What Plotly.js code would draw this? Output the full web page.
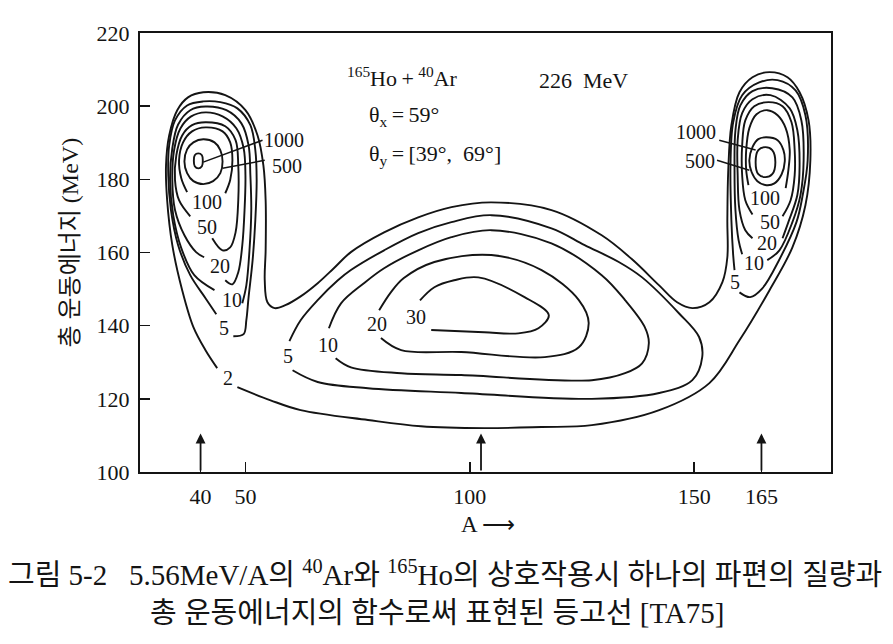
<!DOCTYPE html>
<html>
<head>
<meta charset="utf-8">
<script src="https://cdn.plot.ly/plotly-3.0.1.min.js"></script>
<style>html,body{margin:0;padding:0;background:#fff;}#chart{width:893px;height:644px;}</style>
</head>
<body>
<div id="chart"></div>
<script>
// ---- axis values ----
const xTickVals = [40, 50, 100, 150, 165];
const yTickVals = [100, 120, 140, 160, 180, 200, 220];
const arrowA = [40, 102.5, 165];
const arrowTipE = 110.5;

// ---- contour lines (A = mass number, E = total kinetic energy, MeV) ----
// level 2 : outer contour enclosing both peaks and the central region
const c2A = [48.2,55.6,62.3,77.3,89.1,103.2,116.0,127.2,142.2,153.4,160.1,166.8,171.9,174.8,175.9,175.5,173.5,170.8,166.8,163.0,160.1,158.3,157.6,157.4,157.4,156.3,153.4,149.6,146.2,142.2,136.1,129.4,118.2,104.8,95.9,88.5,80.9,73.5,69.7,66.1,62.3,58.9,56.5,54.9,54.3,54.5,54.5,54.0,52.7,50.0,45.5,40.6,37.2,34.8,33.0,32.3,32.55,33.7,35.9,38.4,41.1,43.7];
const c2E = [123.2,119.6,116.9,114.2,112.5,112.0,112.3,112.8,116.9,124.3,136.0,149.7,161.4,172.9,185.2,196.1,203.8,207.9,209.3,207.9,203.8,194.8,182.5,168.8,158.7,151.9,146.4,144.8,146.4,151.0,158.2,164.7,171.6,173.7,172.4,169.6,165.5,160.1,155.7,151.6,148.0,145.6,144.8,146.4,152.4,160.6,174.3,183.8,192.0,198.9,203.0,203.8,202.4,198.9,192.0,183.8,174.3,162.0,149.7,139.6,133.3,128.4];

// left peak (A ~ 40)
const L5A = [47.3,49.6,50.2,50.7,51.6,52.2,52.5,52.2,51.1,48.2,44.4,40.6,37.0,34.3,33.0,32.8,33.4,35.0,37.7,41.1,43.5];
const L5E = [137.1,137.7,141.5,147.8,157.9,168.8,179.8,188.0,194.8,199.4,201.1,201.3,200.2,196.1,189.3,181.1,171.6,162.0,153.8,147.5,143.1];
const L10A = [49.3,50.2,50.9,51.3,51.1,50.7,49.1,45.75,41.1,37.7,35.0,33.7,33.2,33.9,35.7,38.6,43.1];
const L10E = [146.1,151.0,160.6,171.6,181.1,189.3,195.3,198.9,199.9,198.9,195.0,188.5,179.8,170.2,161.2,153.8,149.7];
const L20A = [45.5,47.1,48.4,49.3,49.8,50.0,49.6,48.0,44.9,41.1,37.9,35.5,34.1,33.7,34.3,36.4,39.0,40.8];
const L20E = [152.4,151.3,154.6,162.0,171.6,181.1,188.5,193.9,197.2,198.3,197.2,193.9,188.0,179.8,171.6,164.7,160.1,158.7];
const L50A = [42.6,44.9,46.6,47.8,48.4,48.4,47.8,45.5,41.1,38.1,35.9,34.6,34.3,35.2,37.7];
const L50E = [163.9,160.6,161.4,165.5,174.3,183.8,190.7,194.5,195.6,194.8,192.0,186.6,179.8,174.3,169.9];
const L100A = [45.5,46.6,47.1,46.6,44.9,41.1,38.1,36.1,35.2,35.7,37.0];
const L100E = [176.2,179.8,185.2,190.1,193.1,194.2,193.1,190.1,185.2,180.3,176.5];
const L500A = [40.6,43.1,44.4,44.9,44.4,42.8,40.6,38.4,37.0,36.4,37.0,38.4,40.6];
const L500E = [190.96,190.1,188.0,184.9,181.7,179.5,178.7,179.5,181.7,184.9,188.2,190.1,190.96];
const L1000A = [39.5,40.3,40.5,40.3,39.5,38.7,38.5,38.7,39.5];
const L1000E = [187.1,186.6,185.1,183.6,183.0,183.6,185.1,186.6,187.1];

// right peak (A ~ 165)
const R5A = [160.1,162.5,165.2,169.0,172.8,174.2,175.3,174.8,172.6,168.6,164.5,160.7,158.7,158.1,158.3,158.7,159.0];
const R5E = [149.1,147.8,150.2,158.1,168.3,175.7,185.2,197.5,204.3,207.1,206.5,203.0,195.6,183.8,168.8,159.3,155.2];
const R10A = [166.3,169.0,171.9,173.7,174.4,173.9,171.9,167.4,163.0,160.3,159.2,159.0,159.2,159.9,160.7];
const R10E = [157.9,160.6,168.3,175.7,185.2,196.1,202.4,204.9,204.1,200.2,193.4,182.5,171.6,163.4,159.5];
const R20A = [169.7,171.0,173.0,173.5,173.0,171.3,167.0,163.0,160.7,159.7,159.7,160.1,161.4,163.0];
const R20E = [163.9,168.3,175.7,183.8,193.4,199.4,203.0,201.9,198.1,190.7,181.1,171.6,166.1,163.9];
const R50A = [169.7,171.5,172.4,172.4,171.7,169.7,166.6,163.4,161.4,160.7,160.7,161.4,163.0];
const R50E = [169.9,174.3,181.1,188.0,195.6,200.0,201.1,200.0,196.1,189.3,181.1,174.3,170.4];
const R100A = [170.4,171.0,171.3,170.4,168.6,166.3,163.9,162.3,161.6,161.6,162.1];
const R100E = [177.6,182.5,188.0,194.0,197.5,198.9,197.8,194.0,188.0,182.5,178.4];
const R500A = [166.1,168.6,169.9,170.2,169.5,167.9,166.1,164.1,162.8,162.3,163.0,164.3,166.1];
const R500E = [191.5,190.7,188.0,184.9,181.4,178.9,178.4,179.5,182.0,185.2,188.8,191.0,191.5];
const R1000A = [165.9,167.4,168.1,167.4,165.9,164.3,163.7,164.3,165.9];
const R1000E = [188.8,188.0,184.7,181.4,180.6,181.4,184.7,188.0,188.8];

// central region
const M5A = [60.5,66.1,77.3,98.1,127.2,142.2,149.6,151.8,151.1,146.6,138.4,133.2,125.6,118.2,104.8,95.9,88.5,80.9,73.5,70.6,66.1,62.3,59.8];
const M5E = [127.8,124.6,122.9,121.6,120.0,121.6,125.1,131.4,136.9,143.4,153.2,157.4,162.0,166.6,170.2,168.3,165.3,160.6,155.2,152.4,147.0,141.5,135.8];
const M10A = [70.1,73.5,84.7,98.1,127.2,134.6,138.4,139.9,139.0,134.6,129.4,118.2,104.8,95.9,88.5,80.9,76.4,71.3,68.6];
const M10E = [131.1,128.6,127.0,126.5,125.1,127.0,129.7,135.2,139.6,147.0,153.8,162.5,166.1,164.2,160.6,155.7,151.6,146.1,139.3];
const M20A = [80.2,84.7,98.1,116.7,124.3,126.5,124.3,116.0,104.8,92.1,85.3,82.4,79.8];
const M20E = [136.6,133.3,132.8,131.4,134.1,140.7,147.0,155.2,159.3,157.4,153.0,149.1,144.2];
const M30A = [91.4,103.2,110.8,115.3,117.6,112.2,101.9,96.5,92.1,88.9];
const M30E = [138.8,138.2,137.9,139.3,142.9,147.8,153.2,152.4,150.5,146.9];

// leader lines from the 1000 / 500 labels
const leadL1000A = [40.6, 53.8], leadL1000E = [184.7, 190.7];
const leadL500A = [44.9, 54.3], leadL500E = [183.0, 185.2];
const leadR1000A = [155.6, 163.7], leadR1000E = [190.7, 188.0];
const leadR500A = [155.1, 162.3], leadR500E = [185.2, 182.5];

// contour labels
const labelText = ['1000','500','100','50','20','10','5','2','1000','500','100','50','20','10','5','5','10','20','30'];
const labelA = [58.7,59.2,41.5,41.5,44.4,46.9,45.3,46.0,150.4,151.3,165.9,166.8,166.3,163.4,159.2,59.4,68.3,79.3,88.0];
const labelE = [190.7,183.6,173.7,166.9,156.3,147.0,139.3,125.7,192.9,185.0,175.0,168.3,162.5,157.1,151.9,131.6,134.6,140.4,142.3];

// ---- drawing ----
const SERIF = 'Liberation Serif, Noto Sans CJK KR, serif';
const INK = '#141414';

const curves = [
  [c2A,c2E],
  [L5A,L5E],[L10A,L10E],[L20A,L20E],[L50A,L50E],[L100A,L100E],[L500A,L500E],[L1000A,L1000E],
  [R5A,R5E],[R10A,R10E],[R20A,R20E],[R50A,R50E],[R100A,R100E],[R500A,R500E],[R1000A,R1000E],
  [M5A,M5E],[M10A,M10E],[M20A,M20E],[M30A,M30E]
];
const leaders = [[leadL1000A,leadL1000E],[leadL500A,leadL500E],[leadR1000A,leadR1000E],[leadR500A,leadR500E]];

const traces = curves.map(([a,e]) => ({
  x: a, y: e, type: 'scatter', mode: 'lines',
  line: {color: INK, width: 1.9, shape: 'spline', smoothing: 1},
  hoverinfo: 'skip', showlegend: false
})).concat(leaders.map(([a,e]) => ({
  x: a, y: e, type: 'scatter', mode: 'lines',
  line: {color: INK, width: 1.5},
  hoverinfo: 'skip', showlegend: false
})));

const annotations = [];
labelText.forEach((t,i) => annotations.push({
  x: labelA[i], y: labelE[i], xref:'x', yref:'y', text: t, showarrow:false,
  font:{family:SERIF, size:20, color:INK}, xanchor:'center', yanchor:'middle',
  borderpad:0
}));
arrowA.forEach(a => annotations.push({
  x: a, y: arrowTipE, ax: a, ay: 100, xref:'x', yref:'y', axref:'x', ayref:'y',
  text:'', showarrow:true, arrowhead:2, arrowsize:1.1, arrowwidth:1.8, arrowcolor:INK
}));
// text inside the plot
annotations.push({xref:'paper', yref:'paper', x:0.297, y:0.900, xanchor:'left', yanchor:'middle', showarrow:false,
  text:'<sup>165</sup>Ho\u2009+\u2009<sup>40</sup>Ar', font:{family:SERIF, size:22, color:INK}});
annotations.push({xref:'paper', yref:'paper', x:0.5745, y:0.892, xanchor:'left', yanchor:'middle', showarrow:false,
  text:'226\u00a0\u00a0MeV', font:{family:SERIF, size:22, color:INK}});
annotations.push({xref:'paper', yref:'paper', x:0.3285, y:0.810, xanchor:'left', yanchor:'middle', showarrow:false,
  text:'\u03b8<sub>x</sub>\u2009=\u200959\u00b0', font:{family:SERIF, size:22, color:INK}});
annotations.push({xref:'paper', yref:'paper', x:0.3285, y:0.722, xanchor:'left', yanchor:'middle', showarrow:false,
  text:'\u03b8<sub>y</sub>\u2009=\u2009[39\u00b0,\u00a0\u00a069\u00b0]', font:{family:SERIF, size:22, color:INK}});
// axis titles
annotations.push({xref:'paper', yref:'paper', x:-0.101, y:0.523, xanchor:'center', yanchor:'middle', showarrow:false,
  textangle:-90, text:'총 운동에너지 (MeV)', font:{family:SERIF, size:24, color:INK}});
annotations.push({xref:'paper', yref:'paper', x:0.504, y:-0.119, xanchor:'center', yanchor:'middle', showarrow:false,
  text:'A \u27f6', font:{family:SERIF, size:23, color:INK}});
// caption
annotations.push({xref:'paper', yref:'paper', x:0.441, y:-0.231, xanchor:'center', yanchor:'middle', showarrow:false,
  text:'그림 5-2\u00a0\u00a0\u00a05.56MeV/A의 <sup>40</sup>Ar와 <sup>165</sup>Ho의 상호작용시 하나의 파편의 질량과',
  font:{family:SERIF, size:29, color:INK}});
annotations.push({xref:'paper', yref:'paper', x:0.430, y:-0.322, xanchor:'center', yanchor:'middle', showarrow:false,
  text:'총 운동에너지의 함수로써 표현된 등고선 [TA75]',
  font:{family:SERIF, size:29, color:INK}});

const layout = {
  width: 893, height: 644,
  margin: {l:140, r:62, t:33, b:172},
  paper_bgcolor:'#ffffff', plot_bgcolor:'#ffffff',
  showlegend:false,
  xaxis: {
    range:[26.5, 180.5], tickvals: xTickVals, ticktext: xTickVals.map(String),
    ticks:'inside', ticklen:10, tickwidth:1.5, tickcolor:INK,
    showline:true, linecolor:INK, linewidth:2, mirror:true,
    showgrid:false, zeroline:false, ticklabelstandoff:4,
    tickfont:{family:SERIF, size:22, color:INK}, fixedrange:true
  },
  yaxis: {
    range:[100, 220], tickvals: yTickVals, ticktext: yTickVals.map(String),
    ticks:'inside', ticklen:10, tickwidth:1.5, tickcolor:INK,
    showline:true, linecolor:INK, linewidth:2, mirror:true,
    showgrid:false, zeroline:false, ticklabelstandoff:4,
    tickfont:{family:SERIF, size:22, color:INK}, fixedrange:true
  },
  annotations: annotations
};

Plotly.newPlot('chart', traces, layout, {staticPlot:true, displayModeBar:false});
</script>
</body>
</html>
